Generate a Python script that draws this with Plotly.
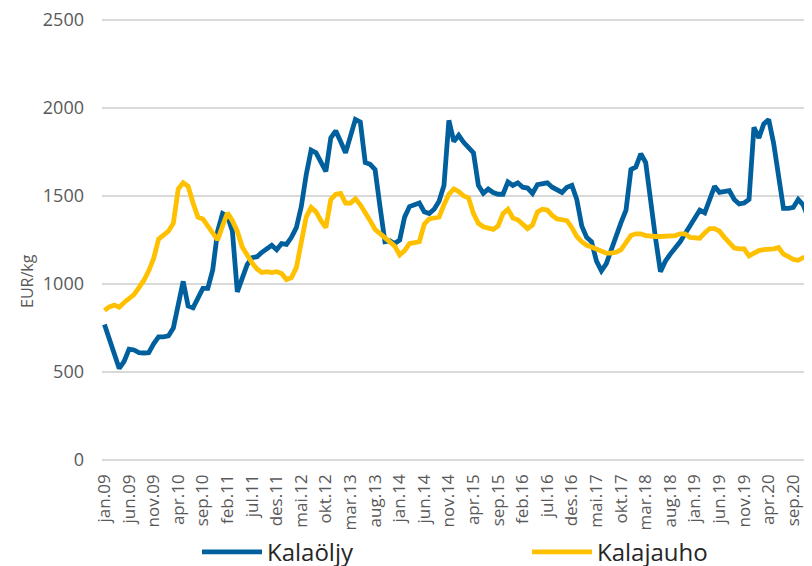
import plotly.graph_objects as go

tick_labels = ["jan.09", "jun.09", "nov.09", "apr.10", "sep.10", "feb.11", "jul.11", "des.11",
               "mai.12", "okt.12", "mar.13", "aug.13", "jan.14", "jun.14", "nov.14", "apr.15",
               "sep.15", "feb.16", "jul.16", "des.16", "mai.17", "okt.17", "mar.18", "aug.18",
               "jan.19", "jun.19", "nov.19", "apr.20", "sep.20", "feb.21"]

kalaoljy = [770, 680, 590, 520, 560, 630, 625, 610, 608, 610,
            660, 700, 700, 705, 750, 880, 1015, 875, 865, 920,
            975, 975, 1080, 1300, 1400, 1385, 1300, 955, 1030, 1110,
            1150, 1155, 1180, 1200, 1220, 1195, 1230, 1225, 1265, 1320,
            1440, 1620, 1760, 1745, 1690, 1640, 1830, 1870, 1810, 1745,
            1840, 1935, 1920, 1690, 1680, 1650, 1440, 1240, 1245, 1230,
            1250, 1380, 1440, 1450, 1460, 1410, 1400, 1425, 1470, 1560,
            1930, 1810, 1845, 1805, 1775, 1745, 1560, 1515, 1540, 1520,
            1510, 1510, 1580, 1560, 1575, 1550, 1545, 1515, 1565, 1570,
            1575, 1550, 1535, 1520, 1550, 1560, 1480, 1330, 1265, 1240,
            1130, 1075, 1116, 1200, 1287, 1350, 1420, 1650, 1665, 1740,
            1690, 1450, 1260, 1070, 1130, 1170, 1200, 1240, 1285, 1330,
            1380, 1420, 1405, 1490, 1555, 1520, 1525, 1530, 1480, 1455,
            1460, 1480, 1890, 1830, 1910, 1935, 1800, 1620, 1430, 1430,
            1435, 1480, 1450, 1380, 1330, 1300]

kalajauho = [850, 870, 880, 868, 895, 915, 940, 980, 1020, 1075,
             1145, 1255, 1275, 1300, 1345, 1540, 1575, 1555, 1460, 1380,
             1370, 1330, 1280, 1250, 1330, 1405, 1360, 1300, 1210, 1160,
             1120, 1085, 1065, 1070, 1065, 1070, 1060, 1025, 1036, 1093,
             1240, 1380, 1435, 1410, 1360, 1320, 1480, 1510, 1515, 1460,
             1460, 1485, 1450, 1410, 1360, 1310, 1285, 1260, 1240, 1215,
             1165, 1190, 1230, 1235, 1240, 1340, 1370, 1375, 1380, 1450,
             1510, 1540, 1525, 1500, 1490, 1400, 1345, 1325, 1315, 1310,
             1330, 1400, 1425, 1375, 1365, 1335, 1315, 1335, 1410, 1425,
             1420, 1390, 1370, 1365, 1360, 1320, 1270, 1240, 1220, 1210,
             1200, 1185, 1175, 1175, 1180, 1195, 1240, 1275, 1285, 1285,
             1275, 1270, 1270, 1270, 1270, 1270, 1275, 1285, 1285, 1265,
             1260, 1260, 1290, 1315, 1315, 1300, 1265, 1230, 1205, 1200,
             1200, 1160, 1175, 1190, 1195, 1195, 1200, 1207, 1170, 1155,
             1140, 1135, 1150, 1150, 1150, 1150]

months = list(range(len(kalaoljy)))
tick_vals = list(range(0, 5 * len(tick_labels), 5))

BLUE = "#00609E"
YELLOW = "#FFC000"
FONT = "Open Sans"

fig = go.Figure()
fig.add_trace(go.Scatter(x=months, y=kalaoljy, mode="lines", name="Kalaöljy",
                         line=dict(color=BLUE, width=4.8), legend="legend"))
fig.add_trace(go.Scatter(x=months, y=kalajauho, mode="lines", name="Kalajauho",
                         line=dict(color=YELLOW, width=4.8), legend="legend2"))

legend_common = dict(orientation="h", xanchor="left", y=-0.158, yanchor="top",
                     itemwidth=60, font=dict(family=FONT, size=24, color="#262626"),
                     bgcolor="rgba(0,0,0,0)")

fig.update_layout(
    width=804, height=558,
    margin=dict(l=94, r=0, t=10, b=106, autoexpand=False),
    paper_bgcolor="white", plot_bgcolor="white",
    font=dict(family=FONT, color="#595959"),
    showlegend=True,
    legend=dict(x=0.1338, **legend_common),
    legend2=dict(x=0.5986, **legend_common),
    xaxis=dict(range=[-0.5, 143.8], tickmode="array", tickvals=tick_vals, ticktext=tick_labels,
               tickangle=-90, tickfont=dict(size=17, color="#595959"), showgrid=False,
               zeroline=False, showline=False, ticks="", ticklabelstandoff=10),
    yaxis=dict(range=[0, 2511.4], tickvals=[0, 500, 1000, 1500, 2000, 2500],
               tickfont=dict(size=18, color="#595959"), showgrid=True, gridcolor="#D9D9D9",
               gridwidth=2, zeroline=True, zerolinecolor="#D9D9D9", zerolinewidth=2,
               ticks="", ticklabelstandoff=17, ticklabeloverflow="allow"),
    annotations=[dict(text="EUR/kg", xref="paper", yref="paper", x=-0.1056, y=0.405,
                      xanchor="center", yanchor="middle", textangle=-90, showarrow=False,
                      font=dict(family=FONT, size=16, color="#595959"))],
)

fig.write_html("out.html")
